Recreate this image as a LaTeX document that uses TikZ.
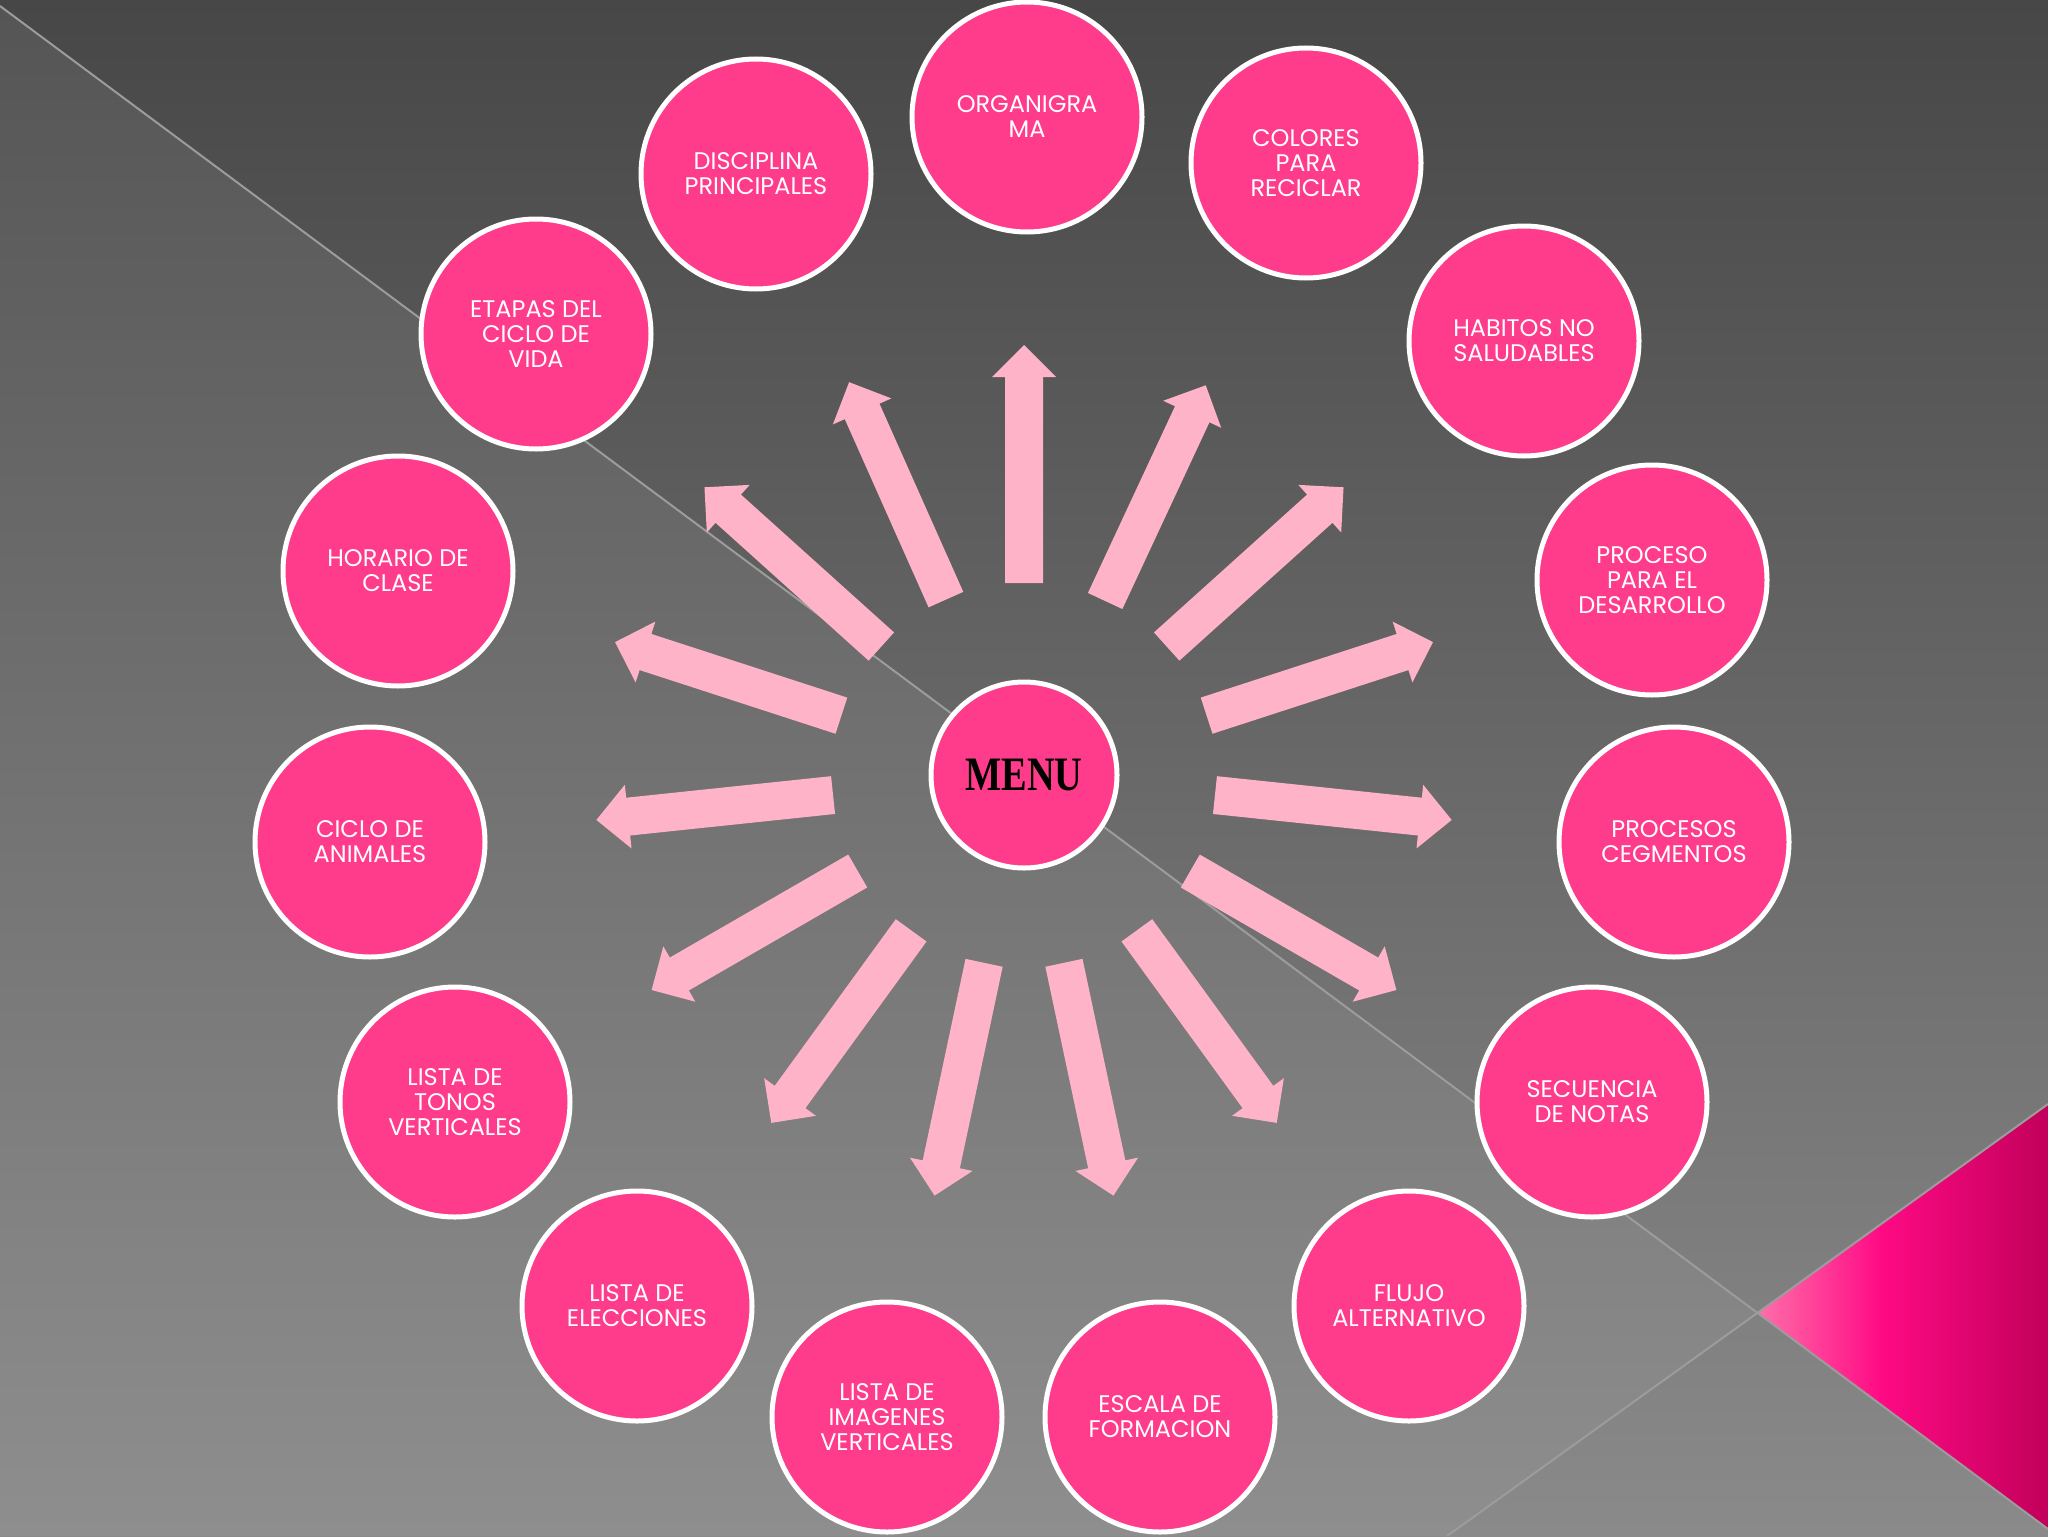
\documentclass[tikz,border=0pt]{standalone}
\usepackage{fontspec}
\usepackage{graphicx}
\setmainfont{Poppins}
\newfontfamily\menufont{Liberation Serif}
\definecolor{bubblefill}{HTML}{FF3B8B}
\definecolor{arrowpink}{HTML}{FFB3C9}
\definecolor{bgtop}{HTML}{474747}
\definecolor{bgbot}{HTML}{8A8A8A}
\definecolor{bgtopL}{HTML}{555555}
\definecolor{bgbotL}{HTML}{8E8E8E}
\definecolor{lineg}{HTML}{9C9C9C}
\definecolor{tripale}{HTML}{FF6FAA}
\definecolor{trimag}{HTML}{FF0A84}
\definecolor{tridark}{HTML}{C2005A}
\begin{document}
\begin{tikzpicture}[x=0.5pt,y=-0.5pt,
  bubble/.style={circle, draw=white, line width=2.5pt, fill=bubblefill, minimum size=115pt, inner sep=0pt, text=white, align=center, font=\fontsize{12}{12.5}\selectfont},
  menububble/.style={circle, draw=white, line width=2.5pt, fill=bubblefill, minimum size=93pt, inner sep=0pt, text=black, font=\menufont\bfseries\fontsize{24}{24}\selectfont},
  spoke/.style={fill=arrowpink},
  divider/.style={draw=lineg, line width=1pt}]
\useasboundingbox (0,0) rectangle (2048,1536);
% background
\shade[top color=bgtop, bottom color=bgbot] (0,0) rectangle (2048,1536);
\shade[top color=bgtopL, bottom color=bgbotL] (0,6) -- (1757,1313) -- (1447,1536) -- (0,1536) -- cycle;
\begin{scope}
  \clip (1757,1313) -- (2048,1104) -- (2048,1529) -- cycle;
  \shade[left color=tripale, right color=trimag] (1757,1100) rectangle (1882,1536);
  \shade[left color=trimag, right color=tridark] (1880,1100) rectangle (2048,1536);
\end{scope}
\draw[divider] (0,6) -- (2048,1529);
\draw[divider] (1447,1536) -- (2048,1104);
% arrows
\foreach \ang in {90,65,42,18,-6,-30,-54,-78,-102,-126,-150,-174,162,138,114} {
  \fill[spoke, shift={(1024,775)}, rotate=\ang] (192,-19) -- (398,-19) -- (398,-32) -- (430,0) -- (398,32) -- (398,19) -- (192,19) -- cycle;
}
% nodes
\node[menububble] (menu) at (1024,775) {\scalebox{0.8}[1]{MENU}};
\node[bubble] (organigrama) at (1027,117) {ORGANIGRA\\MA};
\node[bubble] (colores) at (1306,163) {COLORES\\PARA\\RECICLAR};
\node[bubble] (habitos) at (1524,341) {HABITOS NO\\SALUDABLES};
\node[bubble] (proceso) at (1652,580) {PROCESO\\PARA EL\\DESARROLLO};
\node[bubble] (procesos) at (1674,842) {PROCESOS\\CEGMENTOS};
\node[bubble] (secuencia) at (1592,1102) {SECUENCIA\\DE NOTAS};
\node[bubble] (flujo) at (1409,1306) {FLUJO\\ALTERNATIVO};
\node[bubble] (escala) at (1160,1417) {ESCALA DE\\FORMACION};
\node[bubble] (imagenes) at (887,1417) {LISTA DE\\IMAGENES\\VERTICALES};
\node[bubble] (elecciones) at (637,1306) {LISTA DE\\ELECCIONES};
\node[bubble] (tonos) at (455,1102) {LISTA DE\\TONOS\\VERTICALES};
\node[bubble] (ciclo) at (370,842) {CICLO DE\\ANIMALES};
\node[bubble] (horario) at (398,571) {HORARIO DE\\CLASE};
\node[bubble] (etapas) at (536,334) {ETAPAS DEL\\CICLO DE\\VIDA};
\node[bubble] (disciplina) at (756,174) {DISCIPLINA\\PRINCIPALES};
\end{tikzpicture}
\end{document}
